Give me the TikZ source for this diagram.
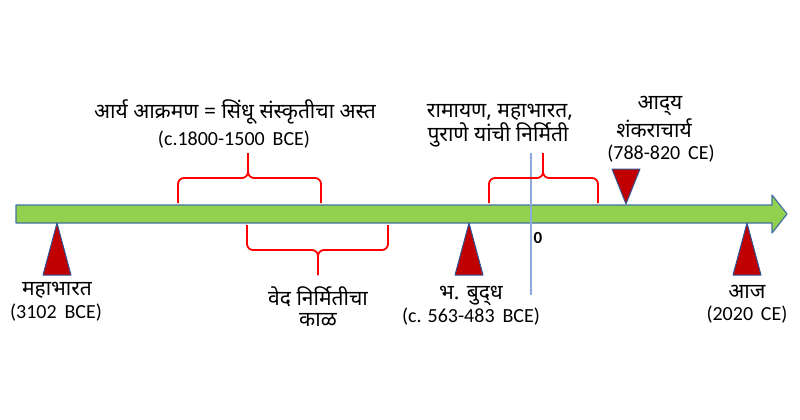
\documentclass[tikz,border=0pt]{standalone}
\usepackage{fontspec}
\setmainfont{Carlito}
\newfontfamily\deva[Script=Devanagari]{Noto Sans}
\usepackage{tikz}
\usetikzlibrary{calc}

\definecolor{barGreen}{HTML}{92D050}
\definecolor{barBlue}{HTML}{41719C}
\definecolor{markRed}{HTML}{C00000}
\definecolor{markBlue}{HTML}{2F5597}
\definecolor{zeroBlue}{HTML}{8EA9DB}

\tikzset{
  marker/.style={fill=markRed, draw=markBlue, line width=1pt, line join=round},
  bracket/.style={draw=red, line width=1.8pt, rounded corners=6pt},
  dv/.style={font=\deva\fontsize{21}{24}\selectfont, inner sep=0pt},
  lt/.style={font=\fontsize{20}{24}\selectfont, inner sep=0pt}
}

\begin{document}
\begin{tikzpicture}[x=1pt, y=-1pt]
\useasboundingbox (0,0) rectangle (800,420);

% time line
\draw[fill=barGreen, draw=barBlue, line width=1.2pt, line join=round]
(16,205) -- (772,205) -- (772,195) -- (787,214) -- (772,233)
-- (772,223) -- (16,223) -- cycle;

% year zero
\coordinate (zTop) at (531,153);
\coordinate (zBot) at (531,295);
\draw[zeroBlue, line width=1.2pt] (zTop) -- (zBot);
\node[font=\bfseries\fontsize{17}{20}\selectfont, inner sep=0pt] (zero) at (538,238) {0};

% event markers
\coordinate (eMbh) at (57,223);
\coordinate (eBuddha) at (469,223);
\coordinate (eToday) at (747,223);
\coordinate (eShank) at (626,204);
\foreach \e in {eMbh, eBuddha, eToday}
  \draw[marker] (\e) --++ (-14,52) --++ (28,0) -- cycle;
\draw[marker] (eShank) --++ (-14,-35) --++ (28,0) -- cycle;

% braces
\draw[bracket] (178,203) |- (248,178) -- (248,153);
\draw[bracket] (321,203) |- (248,178) -- (248,153);
\draw[bracket] (489,203) |- (543,178) -- (543,153);
\draw[bracket] (598,203) |- (543,178) -- (543,153);
\draw[bracket] (247,225) |- (318,250) -- (318,275);
\draw[bracket] (388,225) |- (318,250) -- (318,275);

% labels above
\node[dv] (arya) at (235,112) {आर्य आक्रमण = सिंधू संस्कृतीचा अस्त};
\node[lt] (aryaDate) at (234,140) {(c.1800-1500\, BCE)};
\node[dv] (ramA) at (500,112) {रामायण, महाभारत,};
\node[dv] (ramB) at (498,135) {पुराणे यांची निर्मिती};
\node[dv] (shankA) at (660,106) {आद्^^^^200cय};
\node[dv] (shankB) at (654,128) {शंकराचार्य};
\node[lt] (shankDate) at (661,154) {(788-820\, CE)};

% labels below
\node[dv] (mbh) at (57,290) {महाभारत};
\node[lt] (mbhDate) at (56,313) {(3102\, BCE)};
\node[dv] (vedaA) at (318,297) {वेद निर्मितीचा};
\node[dv] (vedaB) at (318,320) {काळ};
\node[dv] (buddha) at (471,296) {भ. बुद्^^^^200cध};
\node[lt] (buddhaDate) at (471,317) {(c. 563-483\, BCE)};
\node[dv] (today) at (747,292) {आज};
\node[lt] (todayDate) at (747,315) {(2020\, CE)};
\end{tikzpicture}
\end{document}
